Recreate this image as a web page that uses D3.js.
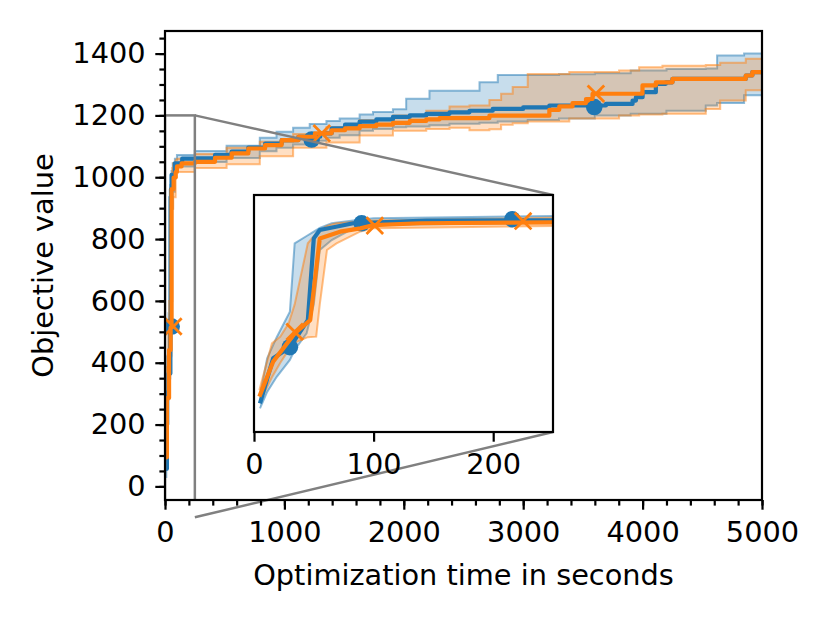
<!DOCTYPE html>
<html>
<head>
<meta charset="utf-8">
<script src="https://cdn.jsdelivr.net/npm/d3@7"></script>
<style>
  body { margin: 0; background: #fff; }
  svg { font-family: "DejaVu Sans", sans-serif; }
</style>
</head>
<body>
<div id="chart"></div>
<script>
// median curves (time in seconds, objective value)
var blueT   = [5,16,30,45,50,55,83,144,250,419,558,698,838,977,1117,1300,1396,1508,1630,1770,1909,2050,2188,2383,2550,2745,3000,3219,3693,3916,3944,4000,4111,4195,4250,4864,4919,5000];
var blueMed = [57,304,365,514,962,1008,1045,1060,1061,1072,1083,1096,1109,1120,1131,1142,1158,1170,1180,1187,1195,1200,1205,1210,1215,1221,1226,1232,1237,1248,1259,1275,1302,1307,1318,1329,1340,1345];
var orangeT   = [4.5,16,34,47,55,72,89,100,139,250,419,558,698,838,977,1117,1256,1396,1508,1630,1770,1909,2050,2188,2299,2717,3219,3302,3413,3526,3581,3999,4111,4250,4864,4919,5000];
var orangeMed = [94,286,441,514,962,999,1017,1035,1045,1050,1063,1077,1093,1104,1120,1131,1142,1152,1158,1165,1170,1176,1182,1187,1191,1199,1218,1229,1240,1253,1270,1297,1307,1318,1329,1340,1342];

// spread bands
var blueBandT = [5,11,19,30,34,44,50,55,65,83,100,250,516,794,934,1073,1212,1352,1463,1630,1742,1909,2020,2215,2383,2634,2787,3038,3300,3600,3900,4200,4529,4624,4850,5000];
var blueHi    = [100,304,420,560,935,975,999,1020,1045,1060,1072,1085,1102,1128,1147,1160,1172,1182,1190,1203,1211,1220,1254,1280,1280,1307,1331,1331,1333,1336,1345,1350,1352,1394,1400,1405];
var blueLo    = [30,120,203,295,350,441,600,898,953,1017,1035,1049,1062,1084,1095,1106,1118,1128,1136,1150,1156,1162,1164,1168,1173,1176,1180,1185,1190,1200,1205,1215,1232,1240,1265,1268];
var orangeBandT = [4.5,15,22,29,34,45,52,55,61,69,89,100,250,516,794,1073,1352,1630,1909,2188,2383,2550,2717,2815,2912,3038,3386,3803,3971,4166,4529,4650,4864,5000];
var orangeHi    = [130,386,423,496,600,935,990,1005,1030,1045,1055,1060,1075,1095,1115,1140,1162,1185,1200,1215,1229,1232,1250,1270,1292,1334,1340,1345,1356,1361,1363,1370,1383,1386];
var orangeLo    = [60,200,280,350,390,420,423,600,898,935,1000,1017,1030,1042,1068,1095,1112,1135,1150,1156,1160,1152,1155,1170,1175,1180,1190,1200,1203,1205,1221,1248,1281,1283];

// markers
var blueMarkT = [56,1228,3595], blueMarkV = [517,1122,1227];
var orangeMarkT = [70,1313,3609], orangeMarkV = [517,1142,1270];
var blueInsetMarkT = [30,90,216], blueInsetMarkV = [365,1045,1067];
var orangeInsetMarkT = [34,101,225], orangeInsetMarkV = [450,1032,1057];

// ticks
var xTicks = [0,1000,2000,3000,4000,5000];
var yTicks = [0,200,400,600,800,1000,1200,1400];
var insetXTicks = [0,100,200];

var blue = "#1f77b4", orange = "#ff7f0e", gray = "#808080";
var fontSize = 28.8;

var svg = d3.select("#chart").append("svg")
    .attr("width", 830).attr("height", 623);

var x = d3.scaleLinear().domain([0, 5000]).range([165, 762]);
var y = d3.scaleLinear().domain([-44, 1473]).range([500, 31]);
var ix = d3.scaleLinear().domain([0, 250]).range([254, 553]);
var iy = d3.scaleLinear().domain([-100, 1200]).range([432, 195]);

var defs = svg.append("defs");
defs.append("clipPath").attr("id", "mainClip").append("rect")
    .attr("x", 165).attr("y", 31).attr("width", 597).attr("height", 469);
defs.append("clipPath").attr("id", "insetClip").append("rect")
    .attr("x", 254).attr("y", 195).attr("width", 299).attr("height", 237);

function drawBand(g, sx, sy, curve, t, lo, hi, color) {
    var data = t.map(function(d, i) { return {t: d, lo: lo[i], hi: hi[i]}; });
    g.append("path").datum(data)
        .attr("fill", color).attr("fill-opacity", 0.25)
        .attr("d", d3.area().curve(curve)
            .x(function(d) { return sx(d.t); })
            .y0(function(d) { return sy(d.lo); })
            .y1(function(d) { return sy(d.hi); }));
    ["lo", "hi"].forEach(function(k) {
        g.append("path").datum(data)
            .attr("fill", "none").attr("stroke", color)
            .attr("stroke-opacity", 0.5).attr("stroke-width", 2)
            .attr("d", d3.line().curve(curve)
                .x(function(d) { return sx(d.t); })
                .y(function(d) { return sy(d[k]); }));
    });
}

function drawMedian(g, sx, sy, curve, t, v, color) {
    g.append("path").datum(d3.zip(t, v))
        .attr("fill", "none").attr("stroke", color)
        .attr("stroke-width", 4.2).attr("stroke-linejoin", "round")
        .attr("d", d3.line().curve(curve)
            .x(function(d) { return sx(d[0]); })
            .y(function(d) { return sy(d[1]); }));
}

function drawMarkers(g, sx, sy, t, v, color, type) {
    var pts = d3.zip(t, v);
    if (type === "circle") {
        g.selectAll(null).data(pts).enter().append("circle")
            .attr("cx", function(d) { return sx(d[0]); })
            .attr("cy", function(d) { return sy(d[1]); })
            .attr("r", 8.3).attr("fill", color);
    } else {
        g.selectAll(null).data(pts).enter().append("path")
            .attr("transform", function(d) { return "translate(" + sx(d[0]) + "," + sy(d[1]) + ")"; })
            .attr("d", "M-8.3,-8.3L8.3,8.3M-8.3,8.3L8.3,-8.3")
            .attr("stroke", color).attr("stroke-width", 2.8).attr("fill", "none");
    }
}

function drawAll(g, sx, sy, curve, markers) {
    drawBand(g, sx, sy, curve, blueBandT, blueLo, blueHi, blue);
    drawBand(g, sx, sy, curve, orangeBandT, orangeLo, orangeHi, orange);
    drawMedian(g, sx, sy, curve, blueT, blueMed, blue);
    drawMarkers(g, sx, sy, markers[0], markers[1], blue, "circle");
    drawMedian(g, sx, sy, curve, orangeT, orangeMed, orange);
    drawMarkers(g, sx, sy, markers[2], markers[3], orange, "x");
}

// main plot
var main = svg.append("g").attr("clip-path", "url(#mainClip)");
drawAll(main, x, y, d3.curveStepAfter, [blueMarkT, blueMarkV, orangeMarkT, orangeMarkV]);

// zoom indicator
main.append("rect")
    .attr("x", x(0)).attr("y", y(1200))
    .attr("width", x(250) - x(0)).attr("height", y(-100) - y(1200))
    .attr("fill", "none").attr("stroke", gray).attr("stroke-width", 2.5);
svg.append("line").attr("x1", x(250)).attr("y1", y(1200)).attr("x2", 553).attr("y2", 195)
    .attr("stroke", gray).attr("stroke-width", 2.5);
svg.append("line").attr("x1", x(250)).attr("y1", y(-100)).attr("x2", 553).attr("y2", 432)
    .attr("stroke", gray).attr("stroke-width", 2.5);

// axes
function styleAxis(g) {
    g.select(".domain").remove();
    g.selectAll(".tick line").attr("stroke", "#000").attr("stroke-width", 2.2);
    g.selectAll(".tick text").attr("font-size", fontSize).attr("fill", "#000")
        .attr("font-family", "DejaVu Sans, sans-serif");
}

var xMinor = d3.range(0, 5001, 200);
var yMinor = d3.range(0, 1451, 50);

svg.append("g").attr("transform", "translate(0,500)")
    .call(d3.axisBottom(x).tickValues(xMinor).tickSize(5.6).tickFormat(""))
    .call(styleAxis);
svg.append("g").attr("transform", "translate(165,0)")
    .call(d3.axisLeft(y).tickValues(yMinor).tickSize(5.6).tickFormat(""))
    .call(styleAxis);
svg.append("g").attr("transform", "translate(0,500)")
    .call(d3.axisBottom(x).tickValues(xTicks).tickSize(9.7).tickPadding(12).tickFormat(d3.format("d")))
    .call(styleAxis);
svg.append("g").attr("transform", "translate(165,0)")
    .call(d3.axisLeft(y).tickValues(yTicks).tickSize(9.7).tickPadding(9.7).tickFormat(d3.format("d")))
    .call(styleAxis);

svg.append("rect").attr("x", 165).attr("y", 31).attr("width", 597).attr("height", 469)
    .attr("fill", "none").attr("stroke", "#000").attr("stroke-width", 2.2);

svg.append("text").attr("x", 463.5).attr("y", 585)
    .attr("text-anchor", "middle").attr("font-size", fontSize)
    .text("Optimization time in seconds");
svg.append("text")
    .attr("transform", "translate(53,265.5) rotate(-90)")
    .attr("text-anchor", "middle").attr("font-size", fontSize)
    .text("Objective value");

// inset
svg.append("rect").attr("x", 254).attr("y", 195).attr("width", 299).attr("height", 237)
    .attr("fill", "#fff");
var inset = svg.append("g").attr("clip-path", "url(#insetClip)");
drawAll(inset, ix, iy, d3.curveLinear, [blueInsetMarkT, blueInsetMarkV, orangeInsetMarkT, orangeInsetMarkV]);

svg.append("g").attr("transform", "translate(0,432)")
    .call(d3.axisBottom(ix).tickValues(insetXTicks).tickSize(9.7).tickPadding(12).tickFormat(d3.format("d")))
    .call(styleAxis);
svg.append("rect").attr("x", 254).attr("y", 195).attr("width", 299).attr("height", 237)
    .attr("fill", "none").attr("stroke", "#000").attr("stroke-width", 2.2);
</script>
</body>
</html>
